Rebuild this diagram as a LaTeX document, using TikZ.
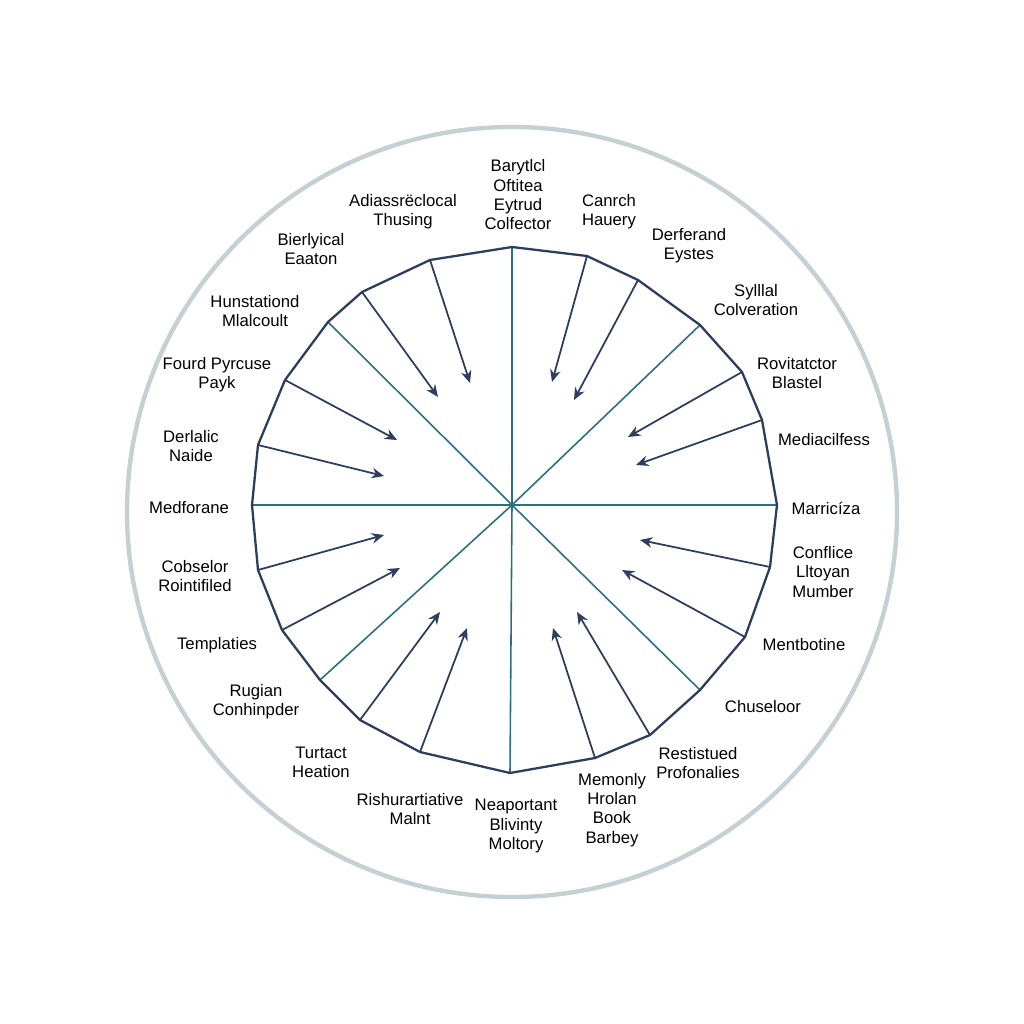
\documentclass[tikz,border=0pt]{standalone}
\usepackage{fontspec}
\setmainfont{Liberation Sans}
\usetikzlibrary{arrows.meta}
\definecolor{navy}{HTML}{2C3E5C}
\definecolor{tealc}{HTML}{2A7080}
\definecolor{ring}{HTML}{C5D0D4}
\begin{document}
\begin{tikzpicture}[x=0.02cm,y=-0.02cm,
 lab/.style={align=center,font=\fontsize{9.5pt}{11pt}\selectfont,text=black,inner sep=0pt},
 spoke/.style={draw=tealc,line width=0.9pt},
 arr/.style={draw=navy,line width=1pt,-{Stealth[length=7pt,width=6pt]}}]
\useasboundingbox (0,0) rectangle (1024,1024);
\fill[white] (0,0) rectangle (1024,1024);
\node[circle,draw=ring,line width=2.5pt,minimum size=770*0.02cm,inner sep=0pt] (outer) at (512,512) {};
\foreach \n/\x/\y in {v1/512/247,v2/587/256,v3/638/280,v4/700/325,v5/742/372,v6/762/420,v7/777/505,v8/770/567,v9/745/637,v10/700/690,v11/650/735,v12/595/758,v13/510/773,v14/420/752,v15/360/720,v16/320/680,v17/282/630,v18/258/570,v19/252/505,v20/258/445,v21/285/380,v22/328/322,v23/362/292,v24/430/260}
  \coordinate (\n) at (\x,\y);
\coordinate (c) at (512,505);
\draw[spoke] (v1)--(c)--(v13) (v19)--(c)--(v7) (v22)--(c)--(v10) (v4)--(c)--(v16);
\draw[navy,line width=1.3pt] (v1)--(v2)--(v3)--(v4)--(v5)--(v6)--(v7)--(v8)--(v9)--(v10)--(v11)--(v12)--(v13)--(v14)--(v15)--(v16)--(v17)--(v18)--(v19)--(v20)--(v21)--(v22)--(v23)--(v24)--cycle;
\foreach \s/\x/\y in {v24/470/383,v23/438/397,v21/397/440,v20/384/476,v18/384/535,v17/400/568,v15/440/612,v14/467/628,v2/552/382,v3/574/400,v5/628/437,v6/636/465,v8/640/540,v9/622/570,v11/577/612,v12/553/628}
  \draw[arr] (\s) -- (\x,\y);
\node[lab] (l1) at (518,195) {Barytlcl\\Oftitea\\Eytrud\\Colfector};
\node[lab] (l2) at (403,212) {Adiassrëclocal\\Thusing};
\node[lab] (l3) at (609,212) {Canrch\\Hauery};
\node[lab] (l4) at (311,249) {Bierlyical\\Eaaton};
\node[lab] (l5) at (689,246) {Derferand\\Eystes};
\node[lab] (l6) at (756,300) {Sylllal\\Colveration};
\node[lab] (l7) at (255,311) {Hunstationd\\Mlalcoult};
\node[lab] (l8) at (217,375) {Fourd Pyrcuse\\Payk};
\node[lab] (l9) at (797,373) {Rovitatctor\\Blastel};
\node[lab] (l10) at (191,446) {Derlalic\\Naide};
\node[lab] (l11) at (824,440) {Mediacilfess};
\node[lab] (l12) at (189,508) {Medforane};
\node[lab] (l13) at (826,508) {Marricíza};
\node[lab] (l14) at (195,576) {Cobselor\\Rointifiled};
\node[lab] (l15) at (823,572) {Conflice\\Lltoyan\\Mumber};
\node[lab] (l16) at (217,645) {Templaties};
\node[lab] (l17) at (804,645) {Mentbotine};
\node[lab] (l18) at (256,702) {Rugian\\Conhinpder};
\node[lab] (l19) at (763,707) {Chuseloor};
\node[lab] (l20) at (321,762) {Turtact\\Heation};
\node[lab] (l21) at (698,763) {Restistued\\Profonalies};
\node[lab] (l22) at (410,809) {Rishurartiative\\Malnt};
\node[lab] (l23) at (516,826) {Neaportant\\Blivinty\\Moltory};
\node[lab] (l24) at (612,810) {Memonly\\Hrolan\\Book\\Barbey};
\end{tikzpicture}
\end{document}
